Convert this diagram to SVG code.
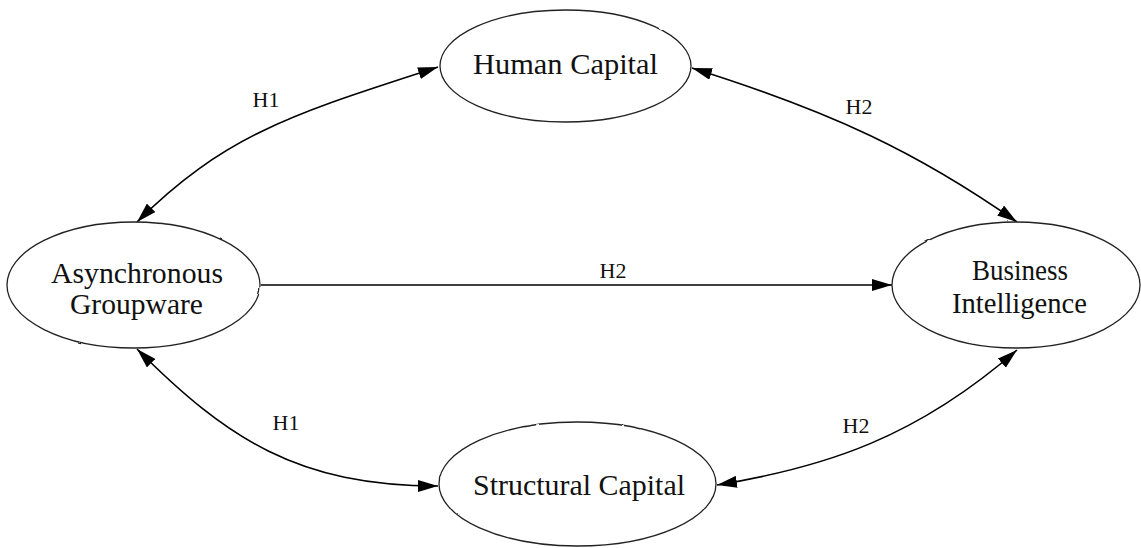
<svg xmlns="http://www.w3.org/2000/svg" width="1141" height="548" viewBox="0 0 1141 548">
  <style>
    .node ellipse { fill: #ffffff; stroke: #222222; stroke-width: 1.3; }
    .node text { font-family: "Liberation Serif", "Times New Roman", serif; font-size: 29px; fill: #111111; text-anchor: middle; }
    .edge { fill: none; stroke: #000000; stroke-width: 1.6; }
    .lbl { font-family: "Liberation Serif", "Times New Roman", serif; font-size: 22px; fill: #111111; text-anchor: middle; }
  </style>
  <defs>
    <marker id="arrow" markerUnits="userSpaceOnUse" markerWidth="20" markerHeight="12" viewBox="0 0 20 12" refX="20" refY="6" orient="auto-start-reverse">
      <path d="M0,0 L20,6 L0,12 Z" fill="#000000"/>
    </marker>
    <filter id="wobble" x="-5%" y="-5%" width="110%" height="110%">
      <feTurbulence type="fractalNoise" baseFrequency="0.06" numOctaves="2" seed="3" result="n"/>
      <feDisplacementMap in="SourceGraphic" in2="n" scale="1.6" xChannelSelector="R" yChannelSelector="G"/>
    </filter>
  </defs>
  <rect width="1141" height="548" fill="#ffffff"/>

  <g id="connectors">
    <path class="edge" d="M137,222 C227,132 300,112 438,67" marker-start="url(#arrow)" marker-end="url(#arrow)"/>
    <path class="edge" d="M692,68 C832,112 917,152 1017,222" marker-start="url(#arrow)" marker-end="url(#arrow)"/>
    <path class="edge" d="M137,349 C227,439 298,486 438,486" marker-start="url(#arrow)" marker-end="url(#arrow)"/>
    <path class="edge" d="M717,485 C827,467 917,437 1017,350" marker-start="url(#arrow)" marker-end="url(#arrow)"/>
    <path class="edge" d="M261,285 L892,285" marker-end="url(#arrow)"/>
    <text class="lbl" x="266" y="107">H1</text>
    <text class="lbl" x="859" y="114">H2</text>
    <text class="lbl" x="613" y="278">H2</text>
    <text class="lbl" x="286" y="430">H1</text>
    <text class="lbl" x="856" y="433">H2</text>
  </g>

  <g id="human-capital" class="node">
    <ellipse cx="565.5" cy="66" rx="125.5" ry="56" filter="url(#wobble)"/>
    <text x="565.5" y="74" textLength="185" lengthAdjust="spacingAndGlyphs">Human Capital</text>
  </g>
  <g id="asynchronous-groupware" class="node">
    <ellipse cx="133.5" cy="285" rx="126.5" ry="63" filter="url(#wobble)"/>
    <text x="137" y="283" textLength="172" lengthAdjust="spacingAndGlyphs">Asynchronous</text>
    <text x="136.5" y="314" textLength="133" lengthAdjust="spacingAndGlyphs">Groupware</text>
  </g>
  <g id="business-intelligence" class="node">
    <ellipse cx="1016" cy="285" rx="124" ry="63" filter="url(#wobble)"/>
    <text x="1020" y="280" textLength="96" lengthAdjust="spacingAndGlyphs">Business</text>
    <text x="1019.5" y="313" textLength="135" lengthAdjust="spacingAndGlyphs">Intelligence</text>
  </g>
  <g id="structural-capital" class="node">
    <ellipse cx="577.5" cy="484" rx="138.5" ry="62" filter="url(#wobble)"/>
    <text x="579" y="495" textLength="212" lengthAdjust="spacingAndGlyphs">Structural Capital</text>
  </g>
</svg>
